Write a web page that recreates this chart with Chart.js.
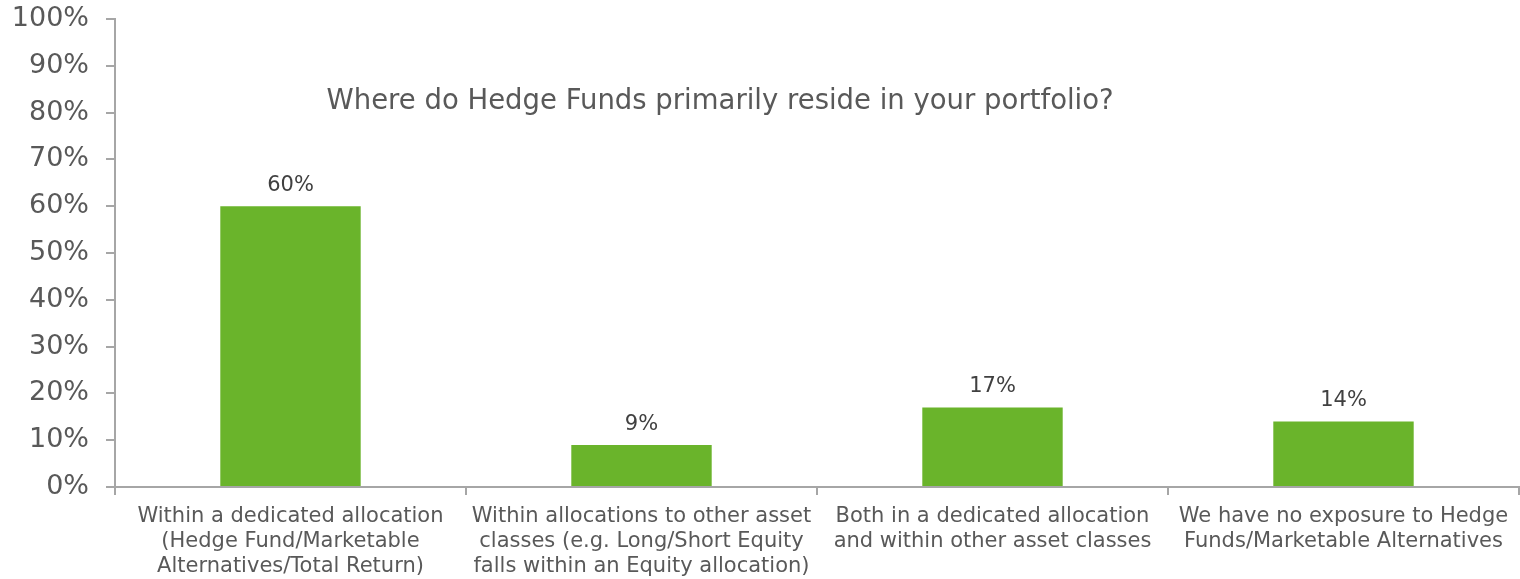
<!DOCTYPE html>
<html>
<head>
<meta charset="utf-8">
<title>Hedge Funds in portfolio</title>
<script src="https://cdn.jsdelivr.net/npm/chart.js@4.4.1/dist/chart.umd.min.js"></script>
<style>
  html, body { margin: 0; padding: 0; background: #ffffff; }
  #wrap { width: 1520px; height: 579px; position: relative; }
</style>
</head>
<body>
<div id="wrap"><canvas id="hedgeChart"></canvas></div>
<script>
// Survey answers (each category label split into lines)
const categories = [
  ['Within a dedicated allocation', '(Hedge Fund/Marketable', 'Alternatives/Total Return)'],
  ['Within allocations to other asset', 'classes (e.g. Long/Short Equity', 'falls within an Equity allocation)'],
  ['Both in a dedicated allocation', 'and within other asset classes'],
  ['We have no exposure to Hedge', 'Funds/Marketable Alternatives']
];
const shares = [60, 9, 17, 14];
const tickValues = [0, 10, 20, 30, 40, 50, 60, 70, 80, 90, 100];
const chartTitle = 'Where do Hedge Funds primarily reside in your portfolio?';

const fontFamily = '"DejaVu Sans", Verdana, sans-serif';
const textColor = '#595959';
const axisColor = '#a6a6a6';
const barColor = '#6ab42b';

// Percent value drawn above every bar
const valueLabels = {
  id: 'valueLabels',
  afterDatasetsDraw(chart) {
    const ctx = chart.ctx;
    const meta = chart.getDatasetMeta(0);
    ctx.save();
    ctx.font = '21px ' + fontFamily;
    ctx.fillStyle = '#404040';
    ctx.textAlign = 'center';
    ctx.textBaseline = 'alphabetic';
    meta.data.forEach((bar, i) => {
      ctx.fillText(Math.round(shares[i]) + '%', bar.x, bar.y - 15);
    });
    ctx.restore();
  }
};

// Title sits inside the plot area, a bit left of centre
const innerTitle = {
  id: 'innerTitle',
  afterDraw(chart) {
    const { ctx, chartArea } = chart;
    ctx.save();
    ctx.font = '27.5px ' + fontFamily;
    ctx.fillStyle = textColor;
    ctx.textAlign = 'center';
    ctx.textBaseline = 'alphabetic';
    ctx.fillText(chartTitle, chartArea.left + chartArea.width * 0.431, chartArea.top + 90);
    ctx.restore();
  }
};

window.onload = function () {
  const ctx = document.getElementById('hedgeChart').getContext('2d');
  new Chart(ctx, {
    type: 'bar',
    data: {
      labels: categories,
      datasets: [{
        data: shares,
        backgroundColor: barColor,
        borderWidth: 0,
        categoryPercentage: 1,
        barPercentage: 0.4
      }]
    },
    options: {
      responsive: true,
      maintainAspectRatio: false,
      animation: false,
      layout: { padding: { top: 19, right: 1, left: 0, bottom: 0 } },
      plugins: {
        legend: { display: false },
        tooltip: { enabled: false }
      },
      scales: {
        x: {
          grid: {
            offset: true,
            drawOnChartArea: false,
            drawTicks: true,
            tickLength: 8,
            color: axisColor,
            lineWidth: 2
          },
          border: { display: true, color: axisColor, width: 2 },
          ticks: {
            color: textColor,
            font: { family: fontFamily, size: 21, lineHeight: 1.19 },
            padding: 9,
            maxRotation: 0,
            autoSkip: false
          },
          afterFit(scale) { scale.height = 92; }
        },
        y: {
          min: 0,
          max: 100,
          afterBuildTicks(scale) {
            scale.ticks = tickValues.map(v => ({ value: v }));
          },
          grid: {
            drawOnChartArea: false,
            drawTicks: true,
            tickLength: 9,
            color: axisColor,
            lineWidth: 2
          },
          border: { display: true, color: axisColor, width: 2 },
          ticks: {
            color: textColor,
            font: { family: fontFamily, size: 27 },
            padding: 17,
            callback: v => v + '%'
          },
          afterFit(scale) {
            scale.width = 115;
            // the top label may overhang; plot top is set by layout padding
            scale.paddingTop = 0;
            scale.paddingBottom = 0;
          }
        }
      }
    },
    plugins: [valueLabels, innerTitle]
  });
};
</script>
</body>
</html>
